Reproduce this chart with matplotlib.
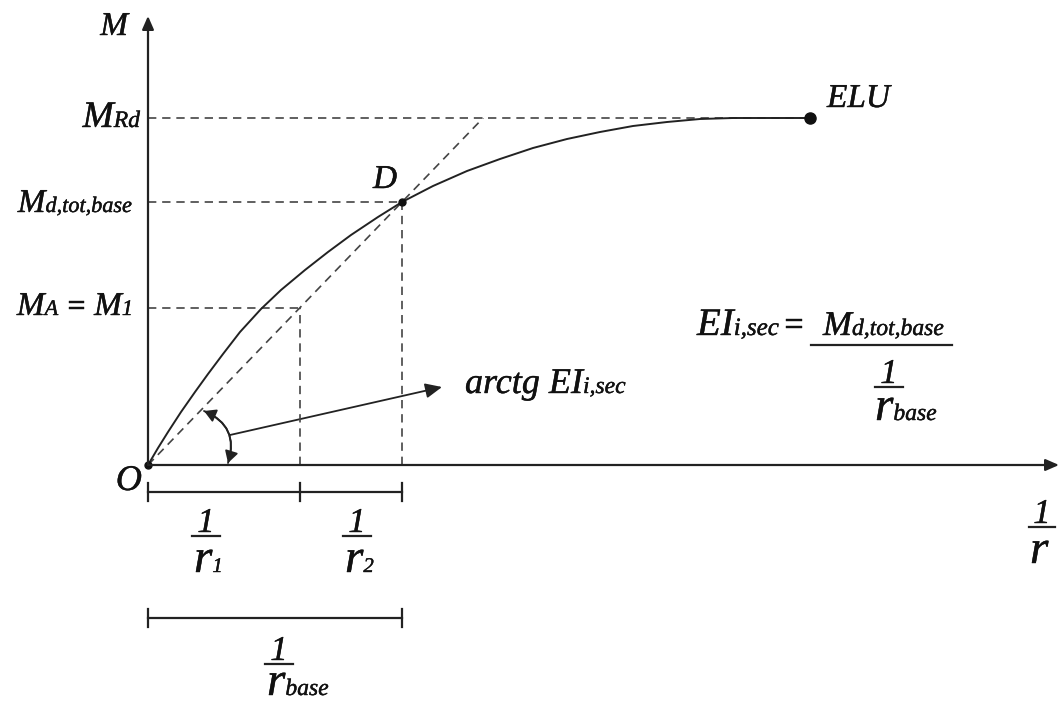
import matplotlib

matplotlib.use("Agg")
import matplotlib.pyplot as plt
from matplotlib import transforms
from matplotlib import patheffects
from matplotlib.patches import FancyArrowPatch

# moment-curvature curve (x = 1/r, y = M), read point by point
curve_x = [0, 10, 20, 33, 47, 60, 75, 92, 113, 133, 157, 180, 203, 230, 254,
           285, 319, 352, 385, 419, 452, 485, 519, 552, 585, 662]
curve_y = [0, 17, 33, 53, 73, 91, 111, 133, 156, 175, 195, 213, 230, 248, 263,
           279, 294, 306, 317, 326, 333, 339, 343, 346, 347, 347]

m_rd = 347        # design resisting moment
m_d = 263         # M_d,tot,base
inv_r1 = 152      # 1/r1
inv_r_base = 254  # 1/r_base
x_elu = 662

INK = "#222222"
DASH = "#444444"
TXT = "#111111"
FONT = dict(family="Liberation Serif", style="italic", color=TXT,
            path_effects=[patheffects.withStroke(linewidth=0.3, foreground=TXT)])

fig = plt.figure(figsize=(10.59, 7.04), dpi=100)
ax = fig.add_axes([0, 0, 1, 1])
ax.set_xlim(-148, 911)
ax.set_ylim(-239, 465)
ax.axis("off")
renderer = fig.canvas.get_renderer()


def rich(x, y, parts, ha="left"):
    """Text pieces of different sizes sharing one baseline."""
    widths = []
    for s, size in parts:
        t = ax.text(0, 0, s, fontsize=size, **FONT)
        widths.append(t.get_window_extent(renderer).width)
        t.remove()
    total = sum(widths)
    off = {"left": 0, "center": -total / 2, "right": -total}[ha]
    for (s, size), w in zip(parts, widths):
        tr = transforms.offset_copy(ax.transData, fig=fig, x=off * 72 / fig.dpi,
                                    y=0, units="points")
        ax.text(x, y, s, fontsize=size, transform=tr, ha="left", va="baseline", **FONT)
        off += w


def frac(xc, y_bar, sub, bar_w=28, one=25, r=34, sub_size=15, drop=36):
    """'1' over an underline, with r_sub below."""
    ax.text(xc, y_bar + 4, "1", fontsize=one, ha="center", va="baseline", **FONT)
    ax.plot([xc - bar_w / 2, xc + bar_w / 2], [y_bar, y_bar], color=INK, lw=1.6)
    parts = [("r", r)] + ([(sub, sub_size)] if sub else [])
    rich(xc - 12, y_bar - drop, parts, ha="left")


# axes with arrow heads
ax.annotate("", xy=(0, 449), xytext=(0, 0),
            arrowprops=dict(arrowstyle="-|>,head_length=0.8,head_width=0.35",
                            color=INK, lw=1.6, shrinkA=0, shrinkB=0))
ax.annotate("", xy=(911, 0), xytext=(0, 0),
            arrowprops=dict(arrowstyle="-|>,head_length=0.8,head_width=0.35",
                            color=INK, lw=1.6, shrinkA=0, shrinkB=0))

# reference dashed lines
dash = dict(color=DASH, lw=1.2, dashes=(5, 3.5))
slope = m_d / inv_r_base
ax.plot([0, x_elu], [m_rd, m_rd], **dash)
ax.plot([0, inv_r_base], [m_d, m_d], **dash)
ax.plot([0, inv_r1], [inv_r1 * slope] * 2, **dash)
ax.plot([inv_r1, inv_r1], [0, inv_r1 * slope], **dash)
ax.plot([inv_r_base, inv_r_base], [0, m_d], **dash)
ax.plot([0, m_rd / slope], [0, m_rd], **dash)

# M - 1/r curve and its marked points
ax.plot(curve_x, curve_y, color=INK, lw=1.4, solid_joinstyle="round")
ax.plot([0, inv_r_base], [0, m_d], "o", color="#111111", ms=5)
ax.plot([x_elu], [m_rd], "o", color="#111111", ms=8)

# angle of the secant stiffness
ax.add_patch(FancyArrowPatch((80, 2), (56, 54), connectionstyle="arc3,rad=0.45",
                             arrowstyle="-|>,head_length=7,head_width=4",
                             color=INK, lw=1.3, shrinkA=0, shrinkB=0))
ax.add_patch(FancyArrowPatch((56, 54), (80, 2), connectionstyle="arc3,rad=-0.45",
                             arrowstyle="-|>,head_length=7,head_width=4",
                             color=INK, lw=1.3, shrinkA=0, shrinkB=0))
ax.add_patch(FancyArrowPatch((82, 30), (294, 78),
                             arrowstyle="-|>,head_length=10,head_width=4.5",
                             color=INK, lw=1.3, shrinkA=0, shrinkB=0))

# dimension bars under the curvature axis
for y_dim, ticks in [(-27, [0, inv_r1, inv_r_base]), (-153, [0, inv_r_base])]:
    ax.plot([ticks[0], ticks[-1]], [y_dim, y_dim], color=INK, lw=1.6)
    for t in ticks:
        ax.plot([t, t], [y_dim - 9, y_dim + 9], color=INK, lw=1.6)

frac(58, -71, "1")
frac(209, -71, "2")
frac(131, -199, "base", sub_size=17, drop=31)
frac(894, -62, "", bar_w=26)

# axis and point labels
rich(-20, 430, [("M", 24)], ha="right")
rich(-8, 338, [("M", 27), ("Rd", 17)], ha="right")
rich(-16, 253, [("M", 24), ("d,tot,base", 16)], ha="right")
rich(-15, 150, [("M", 24), ("A", 16), (" = ", 22), ("M", 24), ("1", 16)], ha="right")
rich(225, 277, [("D", 24)])
rich(679, 358, [("ELU", 24)])
rich(-6, -25, [("O", 26)], ha="right")
rich(317, 72, [("arctg EI", 26), ("i,sec", 17)])

# secant stiffness formula
rich(549, 130, [("EI", 28), ("i,sec", 18), (" ", 8), ("=", 25)])
rich(675, 130, [("M", 25), ("d,tot,base", 17)])
ax.plot([663, 804], [120, 120], color=INK, lw=1.6)
ax.text(741, 82, "1", fontsize=25, ha="center", va="baseline", **FONT)
ax.plot([727, 755], [78, 78], color=INK, lw=1.6)
rich(727, 45, [("r", 34), ("base", 17)])

fig.savefig("out.png", dpi=100)
